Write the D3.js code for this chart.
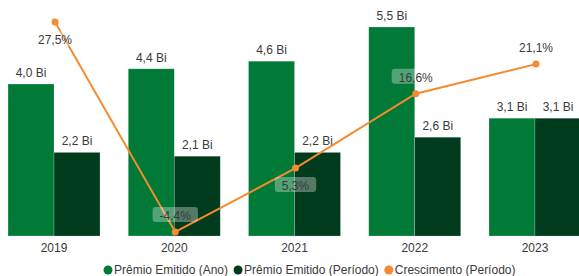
<!DOCTYPE html>
<html>
<head>
<meta charset="utf-8">
<script src="https://cdn.jsdelivr.net/npm/d3@7"></script>
<style>
  body { margin: 0; background: #fff; }
  text { font-family: "Liberation Sans", Arial, sans-serif; }
</style>
</head>
<body>
<svg id="chart" width="579" height="276"></svg>
<script>
// data
const years = ["2019", "2020", "2021", "2022", "2023"];
const premioAno = [4.0, 4.4, 4.6, 5.5, 3.1];
const premioPeriodo = [2.2, 2.1, 2.2, 2.6, 3.1];
const crescimento = [27.5, -4.4, 5.3, 16.6, 21.1];
const seriesNames = ["Prêmio Emitido (Ano)", "Prêmio Emitido (Período)", "Crescimento (Período)"];

const colors = ["#017A38", "#003B1E", "#F58A2E"];
const textColor = "#3a3a3a";

const svg = d3.select("#chart");

// scales
const x = d3.scaleBand()
    .domain(years)
    .range([-6.1, 595.1])
    .paddingInner(0.235)
    .paddingOuter(0.1175);

const xInner = d3.scaleBand()
    .domain([0, 1])
    .range([0, x.bandwidth()]);

const y = d3.scaleLinear().domain([0, 5.5]).range([236, 27]);
const y2 = d3.scaleLinear().domain([0, 27.5]).range([203, 22]);

const fmtBi = v => d3.format(".1f")(v).replace(".", ",") + " Bi";
const fmtPct = v => d3.format(".1f")(v).replace(".", ",").replace("−", "-") + "%";

// bars
const barData = years.map((yr, i) => ({ year: yr, values: [premioAno[i], premioPeriodo[i]] }));

const groups = svg.append("g")
    .selectAll("g")
    .data(barData)
    .join("g")
    .attr("transform", d => `translate(${x(d.year)},0)`);

groups.selectAll("rect")
    .data(d => d.values.map((v, k) => ({ k, v })))
    .join("rect")
    .attr("x", d => xInner(d.k))
    .attr("y", d => y(d.v))
    .attr("width", xInner.bandwidth())
    .attr("height", d => y(0) - y(d.v))
    .attr("fill", d => colors[d.k])
    .attr("stroke", "#ffffff")
    .attr("stroke-opacity", 0.35)
    .attr("stroke-width", 0.6);

groups.selectAll("text")
    .data(d => d.values.map((v, k) => ({ k, v })))
    .join("text")
    .attr("x", d => xInner(d.k) + xInner.bandwidth() / 2)
    .attr("y", d => y(d.v) - 7)
    .attr("text-anchor", "middle")
    .attr("font-size", 12)
    .attr("fill", textColor)
    .text(d => fmtBi(d.v));

// x axis labels
const xAxis = svg.append("g")
    .attr("transform", `translate(0,${y(0)})`)
    .call(d3.axisBottom(x).tickSize(0).tickPadding(7.5));
xAxis.select(".domain").remove();
xAxis.selectAll("text")
    .attr("font-size", 12)
    .attr("font-family", "Liberation Sans, Arial, sans-serif")
    .attr("fill", textColor);

// line
const lineData = years.map((yr, i) => ({ year: yr, v: crescimento[i] }));
const cx = d => x(d.year) + x.bandwidth() / 2 + 1;

svg.append("path")
    .datum(lineData)
    .attr("fill", "none")
    .attr("stroke", colors[2])
    .attr("stroke-width", 2)
    .attr("d", d3.line().x(cx).y(d => y2(d.v)));

svg.append("g")
    .selectAll("circle")
    .data(lineData)
    .join("circle")
    .attr("cx", cx)
    .attr("cy", d => y2(d.v))
    .attr("r", 3.5)
    .attr("fill", colors[2]);

// line labels with translucent boxes
const below = new Set(["2019", "2021"]);
const lbl = svg.append("g")
    .selectAll("g")
    .data(lineData)
    .join("g")
    .attr("transform", d => `translate(${cx(d)},${y2(d.v) + (below.has(d.year) ? 22 : -12)})`);

lbl.append("text")
    .attr("text-anchor", "middle")
    .attr("font-size", 12)
    .attr("fill", textColor)
    .text(d => fmtPct(d.v));

lbl.each(function () {
    const g = d3.select(this);
    const w = g.select("text").node().getComputedTextLength();
    g.insert("rect", "text")
        .attr("x", -w / 2 - 7)
        .attr("y", -13)
        .attr("width", w + 14)
        .attr("height", 15)
        .attr("rx", 3)
        .attr("fill", "#ffffff")
        .attr("fill-opacity", 0.32);
});

// legend
const legend = svg.append("g").attr("transform", "translate(108,270)");
let lx = 0;
seriesNames.forEach((name, i) => {
    const item = legend.append("g").attr("transform", `translate(${lx},0)`);
    item.append("circle").attr("r", 4.5).attr("fill", colors[i]);
    const t = item.append("text")
        .attr("x", 6)
        .attr("y", 4)
        .attr("font-size", 12)
        .attr("fill", textColor)
        .text(name);
    lx += 6 + t.node().getComputedTextLength() + 10;
});
</script>
</body>
</html>
